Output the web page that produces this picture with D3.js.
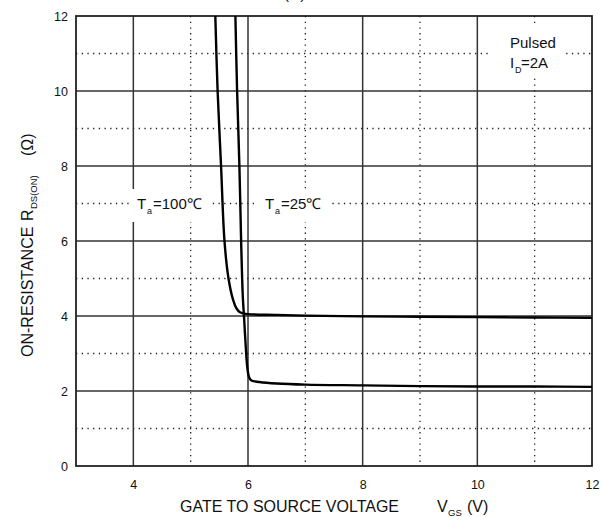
<!DOCTYPE html>
<html><head><meta charset="utf-8">
<script src="https://cdn.jsdelivr.net/npm/d3@7"></script>
<style>body{margin:0;background:#fff}svg{display:block;font-family:"Liberation Sans",Arial,sans-serif}</style>
</head><body><div id="c"></div>
<script>
// Data
const vgs100 = [5.43, 5.47, 5.53, 5.59, 5.66, 5.74, 5.80, 5.86, 5.92, 6.0, 6.5, 7.0, 8.0, 9.0, 10.0, 11.0, 12.0];
const r100   = [12.0, 10.0, 8.0, 6.0, 5.0, 4.43, 4.2, 4.1, 4.07, 4.05, 4.03, 4.01, 3.99, 3.98, 3.97, 3.96, 3.95];
const vgs25  = [5.78, 5.81, 5.85, 5.88, 5.91, 5.93, 5.96, 5.99, 6.02, 6.06, 6.2, 6.5, 7.0, 8.0, 9.0, 10.0, 11.0, 12.0];
const r25    = [12.0, 10.0, 8.0, 6.0, 4.5, 4.0, 3.2, 2.6, 2.36, 2.28, 2.24, 2.2, 2.17, 2.15, 2.13, 2.12, 2.12, 2.11];
const xTicks = [4, 6, 8, 10, 12];
const yTicks = [0, 2, 4, 6, 8, 10, 12];
const xMinor = [5, 7, 9, 11];
const yMinor = [1, 3, 5, 7, 9, 11];

const W = 601, H = 517;
const L = 76, R = 592, T = 16, B = 466;
const svg = d3.select("#c").append("svg").attr("width", W).attr("height", H);
const x = d3.scaleLinear().domain([3, 12]).range([L, R]);
const y = d3.scaleLinear().domain([0, 12]).range([B, T]);

// minor dotted grid
const g = svg.append("g");
g.selectAll(".vx").data(xMinor).enter().append("line")
  .attr("x1", d => x(d)).attr("x2", d => x(d)).attr("y1", T).attr("y2", B)
  .attr("stroke", "#222").attr("stroke-width", 1.3).attr("stroke-dasharray", "1.3,4.4");
g.selectAll(".hy").data(yMinor).enter().append("line")
  .attr("x1", L).attr("x2", R).attr("y1", d => y(d)).attr("y2", d => y(d))
  .attr("stroke", "#222").attr("stroke-width", 1.3).attr("stroke-dasharray", "1.3,4.4");
// major solid grid
g.selectAll(".mx").data(xTicks.slice(0, -1)).enter().append("line")
  .attr("x1", d => x(d)).attr("x2", d => x(d)).attr("y1", T).attr("y2", B)
  .attr("stroke", "#333").attr("stroke-width", 1.5);
g.selectAll(".my").data(yTicks.slice(1, -1)).enter().append("line")
  .attr("x1", L).attr("x2", R).attr("y1", d => y(d)).attr("y2", d => y(d))
  .attr("stroke", "#333").attr("stroke-width", 1.5);

// label backgrounds
const bgs = [[130, 189, 80, 33], [254, 189, 76, 33], [492, 26, 74, 52]];
svg.selectAll(".bg").data(bgs).enter().append("rect")
  .attr("x", d => d[0]).attr("y", d => d[1]).attr("width", d => d[2]).attr("height", d => d[3])
  .attr("fill", "#fff");

// frame
svg.append("rect").attr("x", L).attr("y", T).attr("width", R - L).attr("height", B - T)
  .attr("fill", "none").attr("stroke", "#222").attr("stroke-width", 1.8);

// axes (tick labels only)
const xa = svg.append("g").attr("transform", `translate(0,${B})`)
  .call(d3.axisBottom(x).tickValues(xTicks).tickSize(0).tickPadding(14).tickFormat(d3.format("d")));
xa.select(".domain").remove();
xa.selectAll("text").attr("font-size", 12.5).attr("fill", "#111").attr("font-family", "Liberation Sans, Arial, sans-serif");
const ya = svg.append("g").attr("transform", `translate(${L},0)`)
  .call(d3.axisLeft(y).tickValues(yTicks).tickSize(0).tickPadding(8).tickFormat(d3.format("d")));
ya.select(".domain").remove();
ya.selectAll("text").attr("font-size", 12.5).attr("fill", "#111").attr("font-family", "Liberation Sans, Arial, sans-serif");

// curves
svg.append("clipPath").attr("id", "pc").append("rect")
  .attr("x", L).attr("y", T).attr("width", R - L).attr("height", B - T);
const line2 = d3.line().x(d => x(d[0])).y(d => y(d[1])).curve(d3.curveCatmullRom.alpha(0.5));
svg.append("path").datum(vgs100.map((v, i) => [v, r100[i]]))
  .attr("d", line2).attr("fill", "none").attr("stroke", "#000").attr("stroke-width", 2.4)
  .attr("clip-path", "url(#pc)");
svg.append("path").datum(vgs25.map((v, i) => [v, r25[i]]))
  .attr("d", line2).attr("fill", "none").attr("stroke", "#000").attr("stroke-width", 2.4)
  .attr("clip-path", "url(#pc)");

// text helper: parts = [text, x, baselineY, size]
function textParts(parent, parts) {
  const t = parent.append("text").attr("fill", "#111");
  parts.forEach(p => {
    t.append("tspan").attr("x", p[1]).attr("y", p[2]).attr("font-size", p[3]).text(p[0]);
  });
  return t;
}
textParts(svg, [["T", 137, 209, 15], ["a", 147, 214, 9], ["=100℃", 153, 209, 15]]);
textParts(svg, [["T", 265, 209, 15], ["a", 275, 214, 9], ["=25℃", 281, 209, 15]]);
textParts(svg, [["Pulsed", 510, 48, 15]]);
textParts(svg, [["I", 510, 68, 15], ["D", 515, 73, 9], ["=2A", 521, 68, 15]]);

// axis titles
textParts(svg, [["GATE TO SOURCE VOLTAGE", 180, 512, 16], ["V", 437, 512, 16], ["GS", 448, 516, 9.5], ["(V)", 467, 512, 16]]);
const yg = svg.append("g").attr("transform", "translate(33,0) rotate(-90)");
textParts(yg, [["ON-RESISTANCE", -357, 0, 16], ["R", -221, 0, 16], ["DS(ON)", -209, 4, 9.5], ["(Ω)", -156, 0, 16]]);

// top title (cut off by the top edge in the reference)
textParts(svg, [["R", 262, -1, 15], ["DS(ON)", 272, -2, 9], ["(Ω)", 284, -1, 15], ["— V", 362, -3, 15], ["GS", 386, 0, 9]]);
</script></body></html>
